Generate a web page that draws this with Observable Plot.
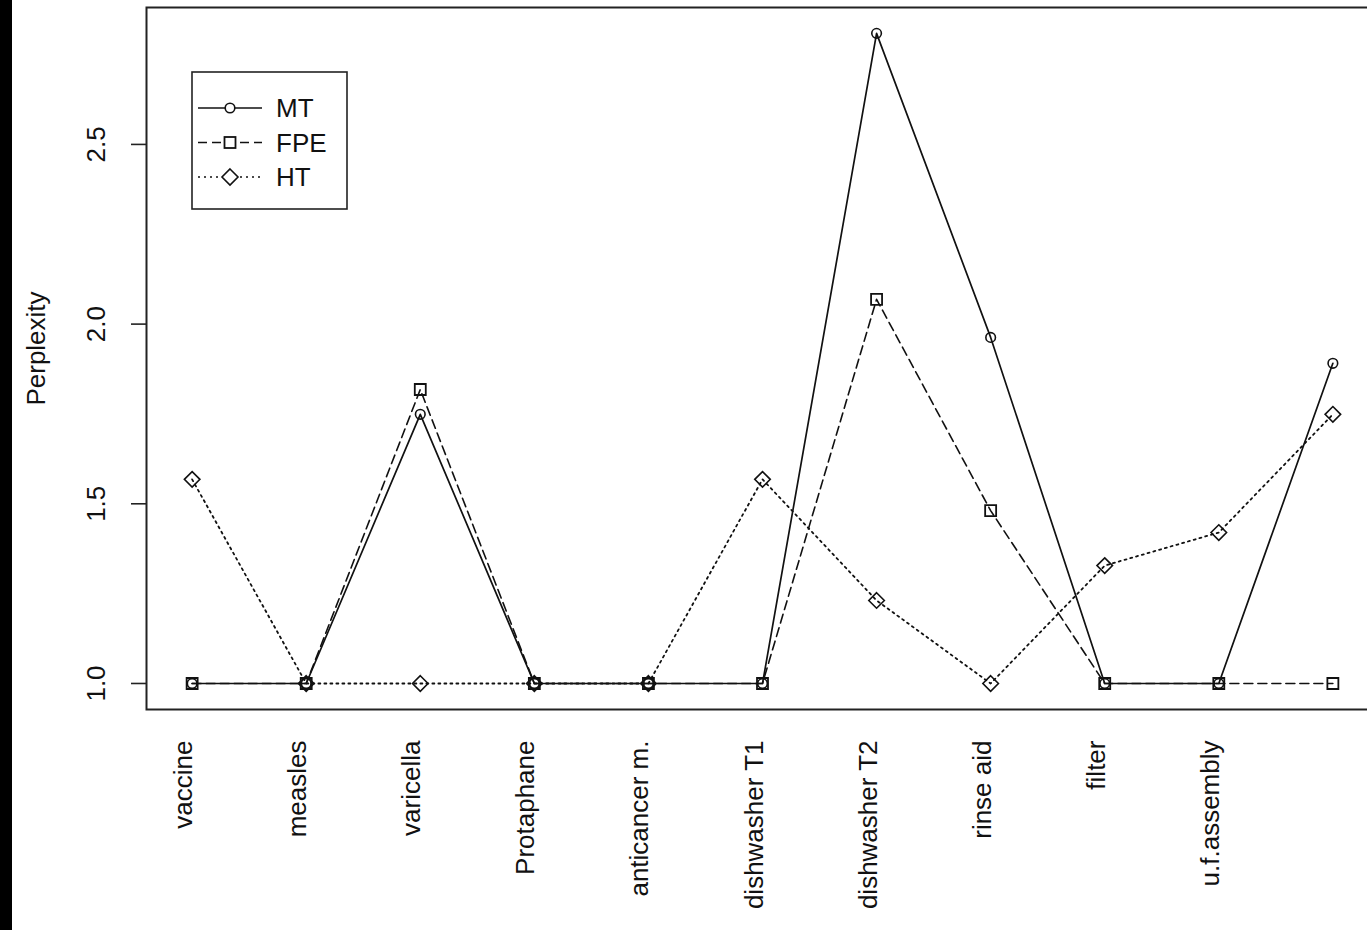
<!DOCTYPE html>
<html>
<head>
<meta charset="utf-8">
<script src="https://cdn.jsdelivr.net/npm/d3@7"></script>
<script src="https://cdn.jsdelivr.net/npm/@observablehq/plot@0.6"></script>
<style>
  html, body { margin: 0; padding: 0; background: #fff; overflow: hidden; width: 1367px; height: 930px; }
  #wrap { position: relative; width: 1367px; height: 930px; overflow: hidden; }
  #chart { position: absolute; left: 0; top: 0; width: 1400px; height: 930px; }
  #strip { position: absolute; left: 0; top: 0; width: 12px; height: 930px; background: #000; z-index: 2; }
  #legend { position: absolute; left: 191px; top: 71px; z-index: 3; }
  svg { font-family: "Liberation Sans", Arial, sans-serif; }
</style>
</head>
<body>
<div id="wrap">
  <div id="chart"></div>
  <div id="strip"></div>
  <div id="legend"></div>
</div>
<script>
// ---- data ----
const categories = ["vaccine", "measles", "varicella", "Protaphane", "anticancer m.",
  "dishwasher T1", "dishwasher T2", "rinse aid", "filter", "u.f.assembly"];
const positions = [1, 2, 3, 4, 5, 6, 7, 8, 9, 10, 11];
const MT  = [1.0, 1.0, 1.749, 1.0, 1.0, 1.0, 2.809, 1.963, 1.0, 1.0, 1.891];
const FPE = [1.0, 1.0, 1.818, 1.0, 1.0, 1.0, 2.069, 1.481, 1.0, 1.0, 1.0];
const HT  = [1.568, 1.0, 1.0, 1.0, 1.0, 1.568, 1.231, 1.0, 1.328, 1.420, 1.749];
const yTicks = [1.0, 1.5, 2.0, 2.5];
const seriesNames = ["MT", "FPE", "HT"];

const toRows = (vals) => positions.map((p, i) => ({x: p, y: vals[i]}));
const mt = toRows(MT), fpe = toRows(FPE), ht = toRows(HT);
const labelRows = categories.map((c, i) => ({x: positions[i], label: c}));

const fontSize = 26;
const ink = "#111";

const chart = Plot.plot({
  width: 1400,
  height: 930,
  marginLeft: 146,
  marginRight: 22,
  marginTop: 7,
  marginBottom: 221,
  style: {fontFamily: "'Liberation Sans', Arial, sans-serif", background: "white", maxWidth: "none", overflow: "visible"},
  x: {domain: [0.6, 11.4], axis: null},
  y: {domain: [0.9276, 2.881], axis: null},
  marks: [
    Plot.frame({stroke: "#222", strokeWidth: 2}),
    Plot.axisY({ticks: yTicks, tickSize: 15, tickFormat: () => "", label: null, stroke: "#222", strokeWidth: 1.6}),
    Plot.text(yTicks, {y: d => d, text: d => d3.format(".1f")(d), frameAnchor: "left", textAnchor: "middle",
      dx: -50, rotate: -90, fontSize, fill: ink}),
    Plot.text(["Perplexity"], {text: d => d, frameAnchor: "left", textAnchor: "middle", dx: -110, dy: -10,
      rotate: -90, fontSize, fill: ink}),
    Plot.text(labelRows, {x: "x", text: "label", frameAnchor: "bottom", dy: 31, rotate: -90,
      textAnchor: "end", fontSize, fill: ink}),
    Plot.line(ht, {x: "x", y: "y", stroke: "#111", strokeWidth: 1.8, strokeDasharray: "2,4"}),
    Plot.line(fpe, {x: "x", y: "y", stroke: "#111", strokeWidth: 1.6, strokeDasharray: "9,5"}),
    Plot.line(mt, {x: "x", y: "y", stroke: "#111", strokeWidth: 1.7}),
    Plot.dot(ht, {x: "x", y: "y", symbol: "diamond2", r: 7, stroke: "#111", strokeWidth: 1.6, fill: "none"}),
    Plot.dot(fpe, {x: "x", y: "y", symbol: "square", r: 6.2, stroke: "#111", strokeWidth: 1.8, fill: "none"}),
    Plot.dot(mt, {x: "x", y: "y", symbol: "circle", r: 4.8, stroke: "#111", strokeWidth: 1.6, fill: "none"})
  ]
});
document.getElementById("chart").appendChild(chart);

// ---- legend ----
const styles = [
  {dash: null, sym: "circle"},
  {dash: "9,5", sym: "square"},
  {dash: "2,4", sym: "diamond"}
];
const lg = d3.select("#legend").append("svg").attr("width", 160).attr("height", 142)
  .style("font-family", "'Liberation Sans', Arial, sans-serif");
lg.append("rect").attr("x", 1).attr("y", 1).attr("width", 155).attr("height", 137)
  .attr("fill", "white").attr("stroke", "#222").attr("stroke-width", 1.6);
seriesNames.forEach((name, i) => {
  const yy = 37 + i * 34.5;
  const st = styles[i];
  lg.append("line").attr("x1", 7).attr("x2", 71).attr("y1", yy).attr("y2", yy)
    .attr("stroke", "#111").attr("stroke-width", 1.6)
    .attr("stroke-dasharray", st.dash);
  const cx = 39;
  if (st.sym === "circle") {
    lg.append("circle").attr("cx", cx).attr("cy", yy).attr("r", 4.8)
      .attr("fill", "white").attr("stroke", "#111").attr("stroke-width", 1.6);
  } else if (st.sym === "square") {
    lg.append("rect").attr("x", cx - 5.5).attr("y", yy - 5.5).attr("width", 11).attr("height", 11)
      .attr("fill", "white").attr("stroke", "#111").attr("stroke-width", 1.8);
  } else {
    lg.append("path").attr("d", `M${cx},${yy - 8}L${cx + 8},${yy}L${cx},${yy + 8}L${cx - 8},${yy}Z`)
      .attr("fill", "white").attr("stroke", "#111").attr("stroke-width", 1.6);
  }
  lg.append("text").attr("x", 85).attr("y", yy).attr("dy", "0.36em")
    .attr("font-size", 26).attr("fill", ink).text(name);
});
</script>
</body>
</html>
